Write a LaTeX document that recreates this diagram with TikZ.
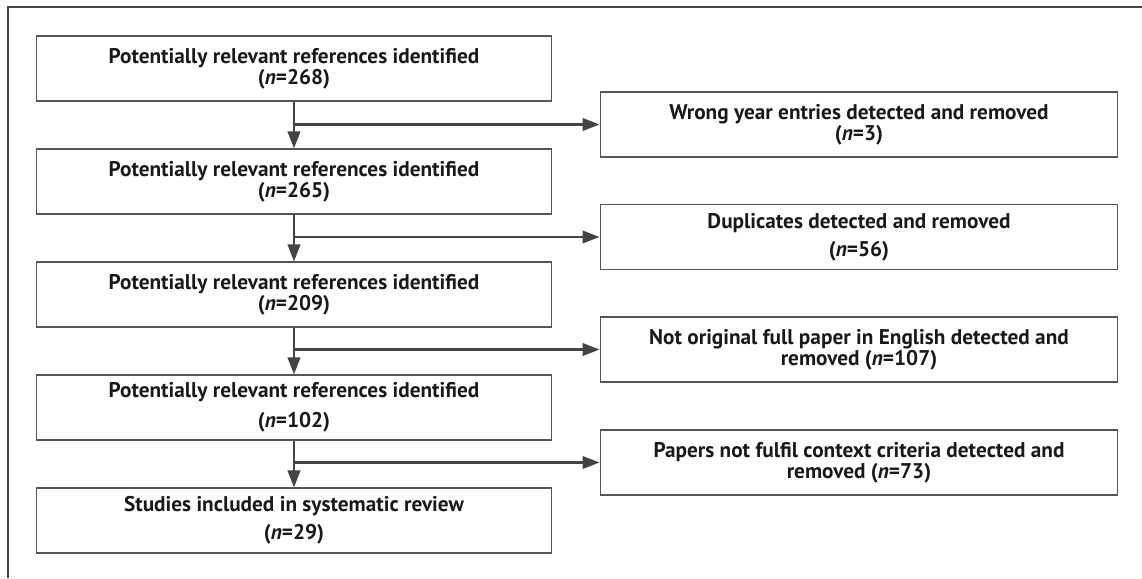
\documentclass[tikz,border=0pt]{standalone}
\usepackage{fontspec}
\setmainfont{PT Sans}
\usetikzlibrary{arrows.meta}
\definecolor{gray1}{RGB}{85, 85, 85}
\definecolor{gray2}{RGB}{68, 68, 68}
\definecolor{text1}{RGB}{25, 25, 25}
\tikzset{
  box/.style={draw=gray1, line width=0.6pt, rectangle, align=center,
    text=text1, minimum height=1.3cm, inner sep=2pt,
    font=\fontsize{12.1}{9.4}\selectfont\bfseries},
  lbox/.style={box, minimum width=10.32cm},
  rbox/.style={box, minimum width=10.36cm},
  frame/.style={draw=gray2, line width=1.2pt}
}
\begin{document}
\begin{tikzpicture}[x=0.02cm, y=-0.02cm, line width=1.3pt, >={Triangle[length=0.34cm, width=0.25cm]}]
  \useasboundingbox (0,0) rectangle (1142,578);
  \draw[frame] (1142,7) -- (8,7) -- (8,578);
  \node[lbox] (n1) at (294,68.5) {Potentially relevant references identified\\(\textit{n}=268)};
  \node[lbox] (n2) at (294,181.5) {Potentially relevant references identified\\(\textit{n}=265)};
  \node[lbox] (n3) at (294,294.5) {Potentially relevant references identified\\(\textit{n}=209)};
  \node[lbox] (n4) at (294,407.5) {Potentially relevant references identified\\[5pt](\textit{n}=102)};
  \node[lbox] (n5) at (294,520.5) {Studies included in systematic review\\[4pt](\textit{n}=29)};
  \node[rbox] (r1) at (859,124.5) {Wrong year entries detected and removed\\(\textit{n}=3)};
  \node[rbox] (r2) at (859,237) {Duplicates detected and removed\\[4pt](\textit{n}=56)};
  \node[rbox] (r3) at (859,349.5) {Not original full paper in English detected and\\removed (\textit{n}=107)};
  \node[rbox] (r4) at (859,462.5) {Papers not fulfil context criteria detected and\\removed (\textit{n}=73)};
  \foreach \from/\to in {n1/n2, n2/n3, n3/n4, n4/n5}
   \draw[draw=gray2, ->] (\from) -- (\to);
  \foreach \i in {1,...,4}
   \draw[draw=gray2, ->] (n\i.south |- r\i.west) -- (r\i.west);
\end{tikzpicture}
\end{document}
